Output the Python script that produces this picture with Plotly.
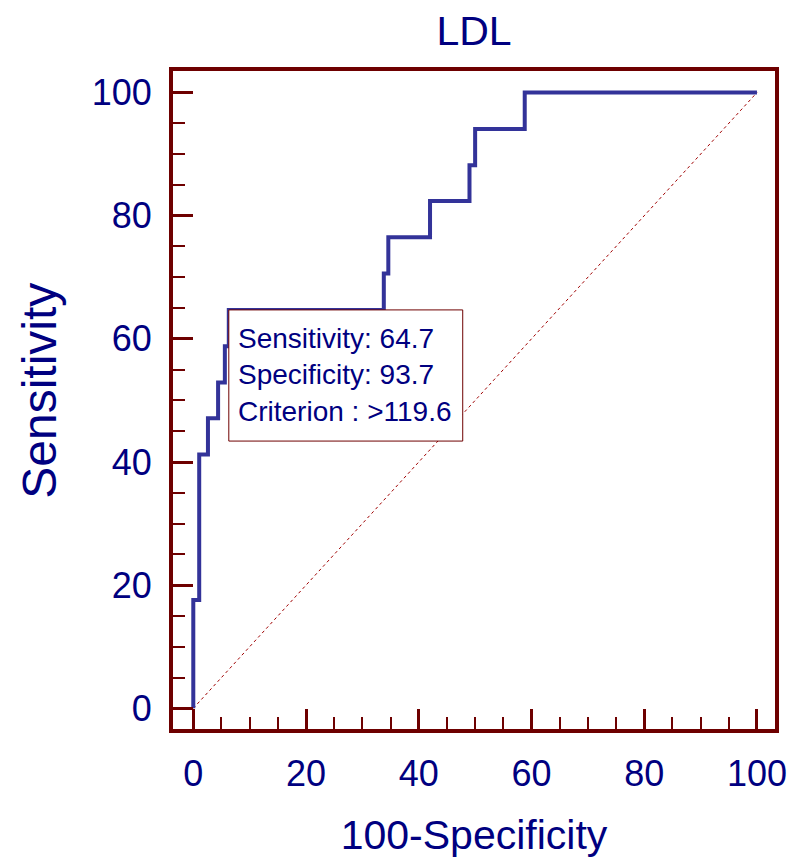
import plotly.graph_objects as go

# ROC step corners (100-Specificity, Sensitivity)
fpr = [0, 0, 1.05, 2.6, 4.4, 5.6, 6.3, 33.8, 34.6, 42.0, 49.0, 50.0, 58.8, 100]
tpr = [0, 17.6, 41.2, 47.1, 52.9, 58.8, 64.7, 70.6, 76.5, 82.4, 88.2, 94.1, 100, 100]
diag_x = [0, 100]
diag_y = [0, 100]

title_text = "LDL"
x_title = "100-Specificity"
y_title = "Sensitivity"
box_lines = ["Sensitivity: 64.7", "Specificity: 93.7", "Criterion : >119.6"]
box_x = [6.3, 47.8]
box_y = [43.4, 64.7]

navy = "#000080"
maroon = "#6e0000"
curve = "#333399"
font_family = "Liberation Sans, Arial"

fig = go.Figure()
fig.add_trace(go.Scatter(x=diag_x, y=diag_y, mode="lines",
                         line=dict(color="#a00000", width=1, dash="dot"),
                         hoverinfo="skip", showlegend=False))
fig.add_trace(go.Scatter(x=fpr, y=tpr, mode="lines", line_shape="hv",
                         line=dict(color=curve, width=4),
                         showlegend=False))

fig.add_shape(type="rect", x0=box_x[0], x1=box_x[1], y0=box_y[0], y1=box_y[1],
              xref="x", yref="y", line=dict(color=maroon, width=1),
              fillcolor="white", layer="above")
fig.add_annotation(x=7.6, y=(box_y[0] + box_y[1]) / 2, xref="x", yref="y",
                   text="<br>".join(box_lines), showarrow=False,
                   xanchor="left", yanchor="middle", align="left",
                   font=dict(family=font_family, size=28, color=navy))

# y-axis title as rotated annotation
fig.add_annotation(x=-0.221, y=0.514, xref="paper", yref="paper",
                   text=y_title, showarrow=False, textangle=-90,
                   xanchor="center", yanchor="middle",
                   font=dict(family=font_family, size=48, color=navy))

axis_common = dict(
    showline=True, linecolor=maroon, linewidth=4, mirror=True,
    ticks="inside", ticklen=20, tickwidth=3, tickcolor=maroon,
    showgrid=False, zeroline=False, automargin=False,
    tickfont=dict(family=font_family, size=36, color=navy),
    minor=dict(dtick=5, ticks="inside", ticklen=12, tickwidth=2, tickcolor=maroon, showgrid=False),
)

fig.update_layout(
    width=787, height=854,
    paper_bgcolor="white", plot_bgcolor="white",
    margin=dict(l=165, r=20, t=63, b=133, autoexpand=False),
    title=dict(text=title_text, xref="paper", x=0.5, xanchor="center",
               yref="container", y=0.974, yanchor="middle",
               font=dict(family=font_family, size=41, color=navy)),
    xaxis=dict(range=[-3.6, 103.2], tick0=0, dtick=20, ticklabelstandoff=10,
               title=dict(text=x_title, standoff=28,
                          font=dict(family=font_family, size=41, color=navy)),
               **axis_common),
    yaxis=dict(range=[-3.36, 103.5], tick0=0, dtick=20, ticklabelstandoff=10,
               **axis_common),
)

fig.write_html("out.html")
